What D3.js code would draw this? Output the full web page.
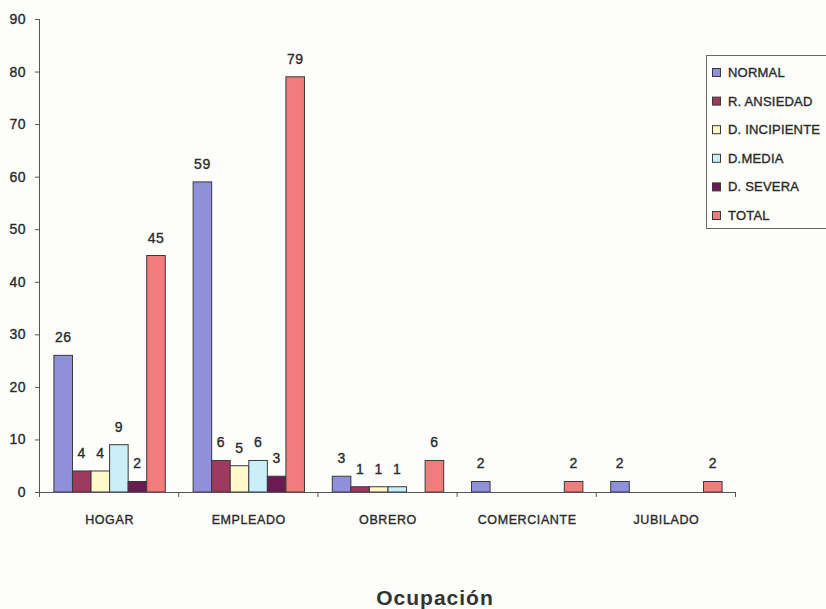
<!DOCTYPE html>
<html>
<head>
<meta charset="utf-8">
<script src="https://cdn.jsdelivr.net/npm/d3@7"></script>
<style>
  html, body { margin: 0; padding: 0; background: #fdfdfb; }
  svg { display: block; font-family: "Liberation Sans", Arial, sans-serif; }
  svg text { stroke: #2a2a2a; stroke-width: 0.35px; }
</style>
</head>
<body>
<svg id="chart" width="826" height="609"></svg>
<script>
// Occupation categories and the count for each diagnosis group
const categories = ["HOGAR", "EMPLEADO", "OBRERO", "COMERCIANTE", "JUBILADO"];
const seriesNames = ["NORMAL", "R. ANSIEDAD", "D. INCIPIENTE", "D.MEDIA", "D. SEVERA", "TOTAL"];
const normal      = [26, 59, 3, 2, 2];
const rAnsiedad   = [4, 6, 1, 0, 0];
const dIncipiente = [4, 5, 1, 0, 0];
const dMedia      = [9, 6, 1, 0, 0];
const dSevera     = [2, 3, 0, 0, 0];
const total       = [45, 79, 6, 2, 2];
const yTicks = [0, 10, 20, 30, 40, 50, 60, 70, 80, 90];
const colors = ["#8f8fdc", "#9e3a5e", "#fff9c9", "#c9f0f8", "#6a1c52", "#f17c7c"];

const seriesValues = [normal, rAnsiedad, dIncipiente, dMedia, dSevera, total];

const svg = d3.select("#chart");
const plotLeft = 40, plotRight = 736, plotTop = 19, plotBottom = 492;

const y = d3.scaleLinear().domain([0, 90]).range([plotBottom, plotTop]);
const x0 = d3.scaleBand().domain(categories).range([plotLeft, plotRight])
  .paddingInner(0.2).paddingOuter(0.1);
const x1 = d3.scaleBand().domain(seriesNames).range([0, x0.bandwidth()]);

// Bars: one group per occupation, zero counts are not drawn
const groups = svg.append("g").selectAll("g")
  .data(categories)
  .join("g")
  .attr("transform", d => `translate(${x0(d)},0)`);

const rowsFor = (c, i) => seriesNames
  .map((s, k) => ({ s, k, v: seriesValues[k][i] }))
  .filter(d => d.v > 0);

groups.selectAll("rect")
  .data(rowsFor)
  .join("rect")
  .attr("x", d => x1(d.s))
  .attr("y", d => y(d.v))
  .attr("width", x1.bandwidth())
  .attr("height", d => y(0) - y(d.v))
  .attr("fill", d => colors[d.k])
  .attr("stroke", "#3a3a3a")
  .attr("stroke-width", 1);

groups.selectAll("text.val")
  .data(rowsFor)
  .join("text")
  .attr("class", "val")
  .attr("x", d => x1(d.s) + x1.bandwidth() / 2)
  .attr("y", d => y(d.v) - 13)
  .attr("text-anchor", "middle")
  .attr("font-size", 14)
  .attr("letter-spacing", 0.5)
  .attr("fill", "#2a2a2a")
  .text(d => d.v);

// Y axis
const yAxis = svg.append("g")
  .attr("transform", `translate(${plotLeft},0)`)
  .call(d3.axisLeft(y).tickValues(yTicks).tickSize(5).tickPadding(9));
yAxis.select(".domain").attr("stroke", "#555").attr("d", `M-0.5,${plotTop}V${plotBottom + 5}`);
yAxis.selectAll(".tick line").attr("stroke", "#555");
yAxis.selectAll(".tick text")
  .attr("font-size", 14).attr("fill", "#2a2a2a").attr("letter-spacing", 0.5)
  .attr("font-family", "'Liberation Sans', Arial, sans-serif");

// X axis with ticks at category boundaries
const xAxis = svg.append("g").attr("transform", `translate(0,${plotBottom})`);
xAxis.append("line")
  .attr("x1", plotLeft).attr("x2", plotRight)
  .attr("y1", 0.5).attr("y2", 0.5)
  .attr("stroke", "#555");
const bounds = categories.map(c => x0(c) - x0.step() * x0.paddingOuter()).concat([plotRight]);
xAxis.selectAll("line.tk")
  .data(bounds.slice(1))
  .join("line")
  .attr("class", "tk")
  .attr("x1", d => d - 0.5).attr("x2", d => d - 0.5)
  .attr("y1", 0).attr("y2", 5)
  .attr("stroke", "#555");
xAxis.selectAll("text")
  .data(categories)
  .join("text")
  .attr("x", d => x0(d) + x0.bandwidth() / 2)
  .attr("y", 32)
  .attr("text-anchor", "middle")
  .attr("font-size", 12.5)
  .attr("letter-spacing", 0.6)
  .attr("fill", "#2a2a2a")
  .text(d => d);

// Axis title
svg.append("text")
  .attr("x", 435).attr("y", 605)
  .attr("text-anchor", "middle")
  .attr("font-size", 21)
  .attr("font-weight", "bold")
  .attr("letter-spacing", 1)
  .attr("fill", "#333")
  .style("stroke", "none")
  .text("Ocupación");

// Legend
const legend = svg.append("g");
legend.append("rect")
  .attr("x", 706.5).attr("y", 55.5)
  .attr("width", 140).attr("height", 173)
  .attr("fill", "#fdfdfb")
  .attr("stroke", "#666");
const items = legend.selectAll("g.item")
  .data(seriesNames)
  .join("g")
  .attr("class", "item")
  .attr("transform", (d, i) => `translate(0,${72 + i * 28.6})`);
items.append("rect")
  .attr("x", 712.5).attr("y", -3.5)
  .attr("width", 8).attr("height", 8)
  .attr("fill", (d, i) => colors[i])
  .attr("stroke", "#3a3a3a");
items.append("text")
  .attr("x", 728).attr("y", 5)
  .attr("font-size", 13)
  .attr("letter-spacing", 0.2)
  .attr("fill", "#2a2a2a")
  .text(d => d);
</script>
</body>
</html>
